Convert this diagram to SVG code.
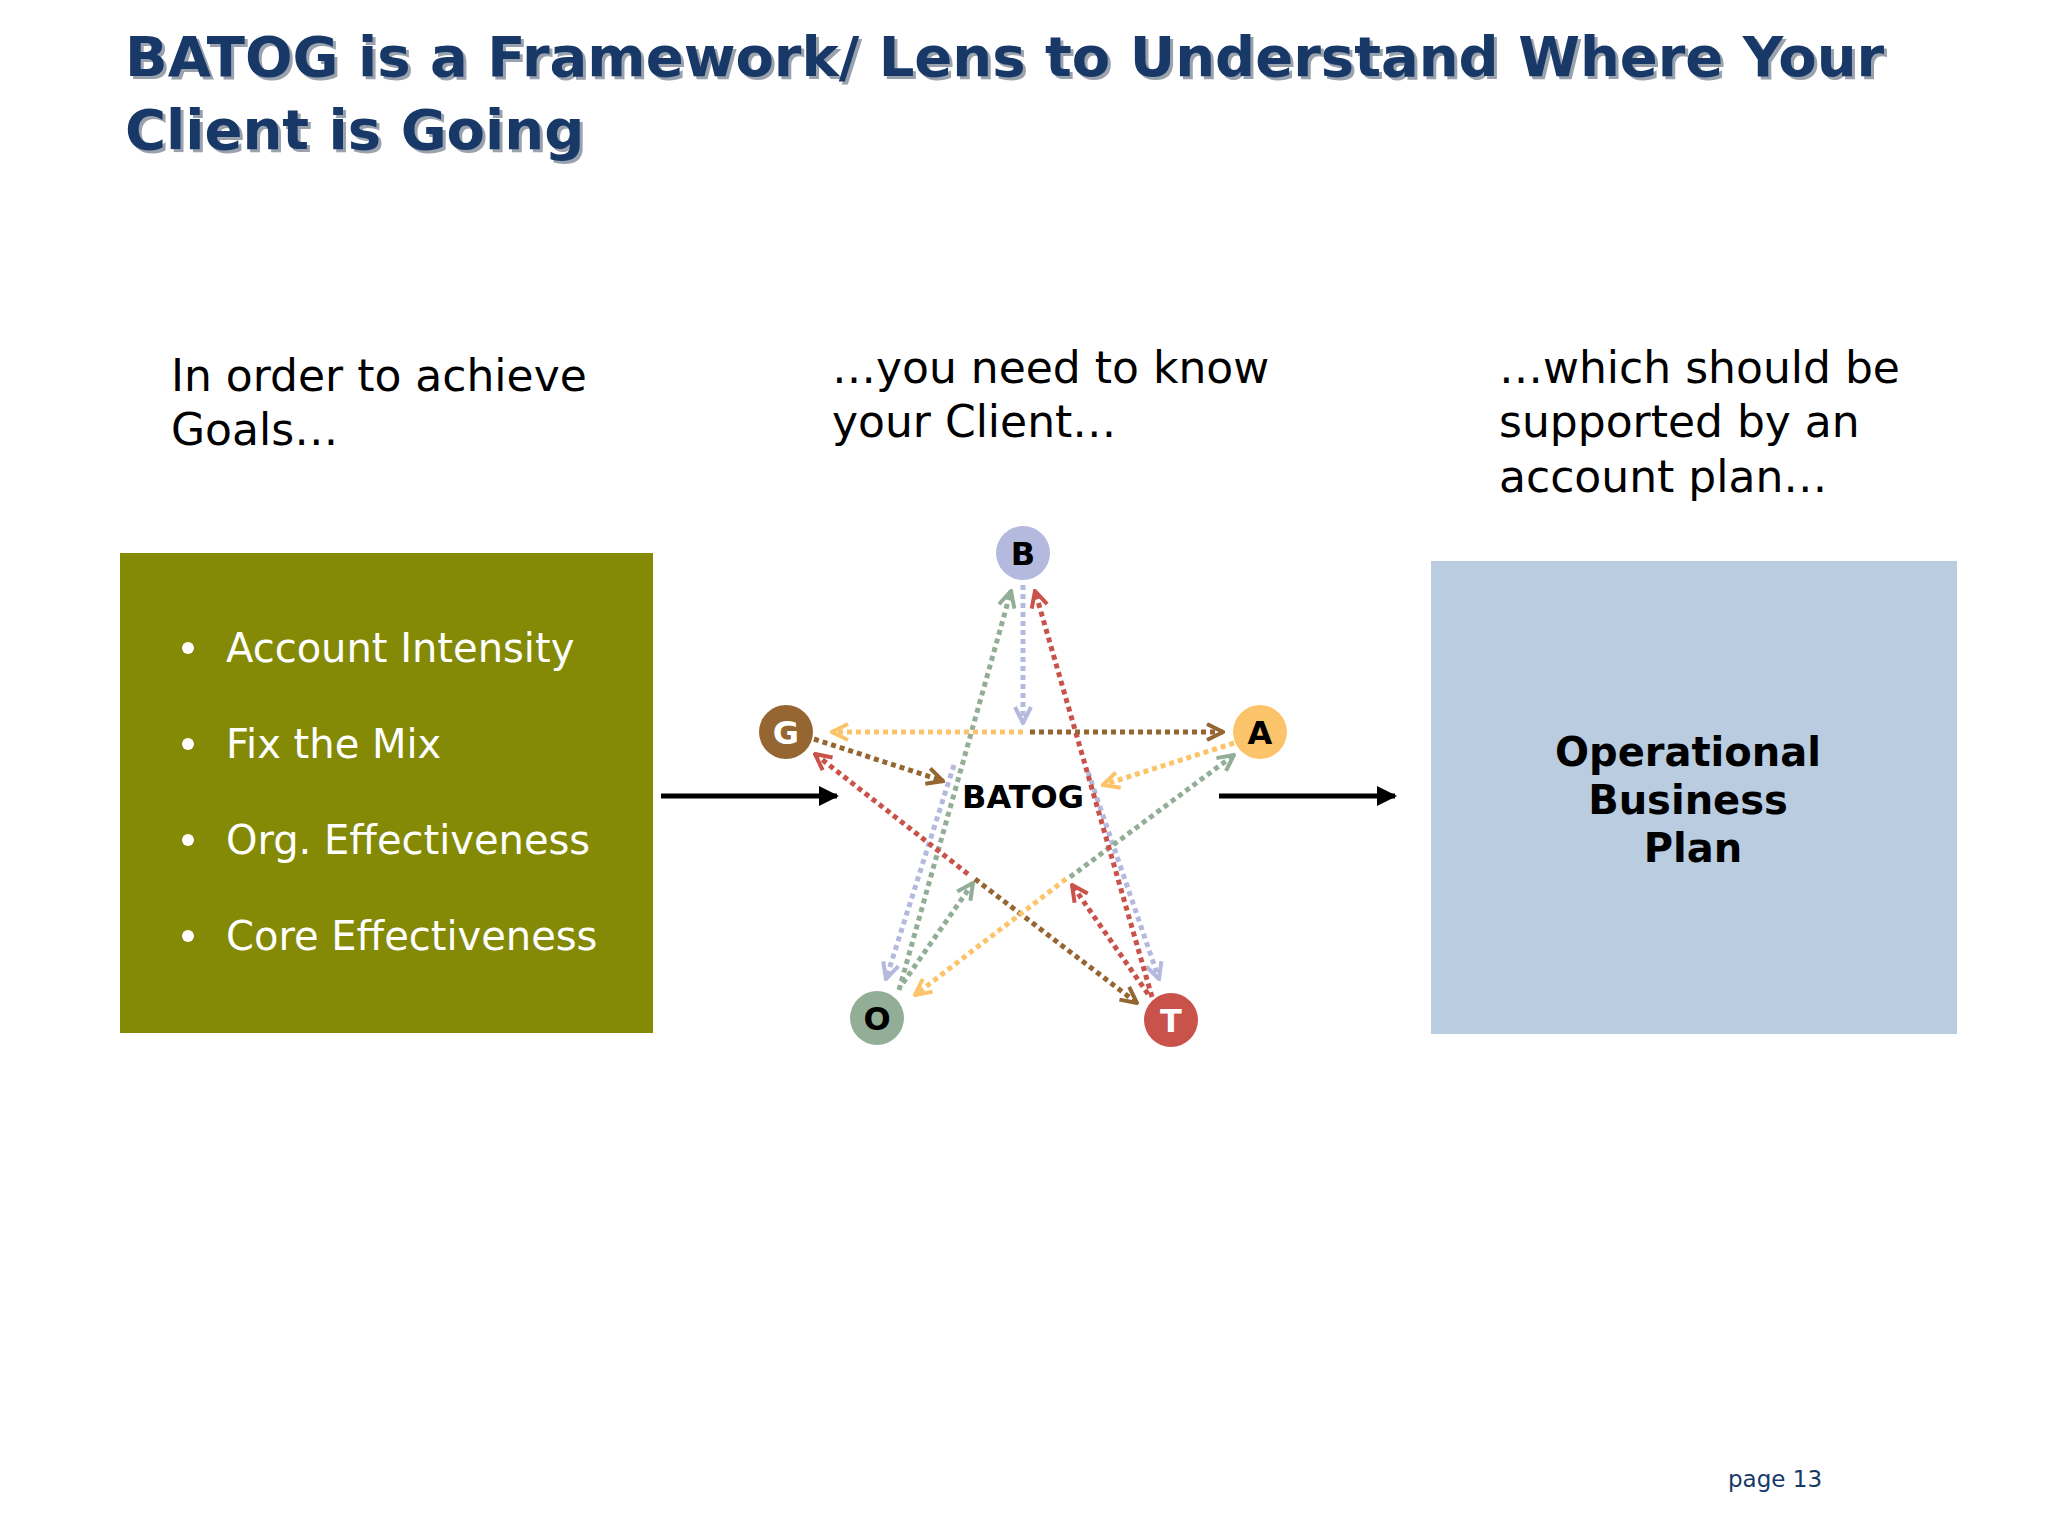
<svg xmlns="http://www.w3.org/2000/svg" width="2048" height="1536" viewBox="0 0 2048 1536">
<defs>
<style>
.t{font-family:"DejaVu Sans",Verdana,sans-serif;font-size:44px;fill:#000}
.b{font-family:"DejaVu Sans",Verdana,sans-serif;font-size:40px;fill:#fff}
.ttl{font-family:"DejaVu Sans","Liberation Sans",sans-serif;font-weight:bold;font-size:56px;fill:#183968}
.sh{font-family:"DejaVu Sans","Liberation Sans",sans-serif;font-weight:bold;font-size:56px;fill:#9aa2ad}
.lt{font-family:"DejaVu Sans",Verdana,sans-serif;font-weight:bold;font-size:32px;text-anchor:middle}
.d{fill:none;stroke-width:5;stroke-dasharray:5 4}
</style>
<marker id="mk" viewBox="0 0 10 10" refX="9" refY="5" markerWidth="4" markerHeight="4" orient="auto" markerUnits="strokeWidth"><path d="M1,1 L9,5 L1,9" fill="none" stroke="context-stroke" stroke-width="2"/></marker>
<marker id="ab" viewBox="0 0 10 10" refX="9" refY="5" markerWidth="4" markerHeight="4" orient="auto" markerUnits="strokeWidth"><path d="M0,0 L10,5 L0,10 z" fill="#000"/></marker>
</defs>
<rect width="2048" height="1536" fill="#fff"/>
<g id="title">
<text class="sh" x="128" y="79">BATOG is a Framework/ Lens to Understand Where Your</text>
<text class="sh" x="128" y="152">Client is Going</text>
<text class="ttl" x="125" y="76">BATOG is a Framework/ Lens to Understand Where Your</text>
<text class="ttl" x="125" y="149">Client is Going</text>
</g>
<g id="h1"><text class="t" x="171" y="391">In order to achieve</text><text class="t" x="171" y="445">Goals…</text></g>
<g id="h2"><text class="t" x="832" y="383">…you need to know</text><text class="t" x="832" y="437">your Client…</text></g>
<g id="h3"><text class="t" x="1499" y="383">…which should be</text><text class="t" x="1499" y="437">supported by an</text><text class="t" x="1499" y="492">account plan…</text></g>
<g id="goals">
<rect x="120" y="553" width="533" height="480" fill="#848a06"/>
<circle cx="188" cy="648" r="6" fill="#fff"/><text class="b" x="226" y="662">Account Intensity</text>
<circle cx="188" cy="744" r="6" fill="#fff"/><text class="b" x="226" y="758">Fix the Mix</text>
<circle cx="188" cy="840" r="6" fill="#fff"/><text class="b" x="226" y="854">Org. Effectiveness</text>
<circle cx="188" cy="936" r="6" fill="#fff"/><text class="b" x="226" y="950">Core Effectiveness</text>
</g>
<g id="plan">
<rect x="1431" y="561" width="526" height="473" fill="#b9cce0"/>
<text class="lt" x="1688" y="766" style="font-size:40px">Operational</text>
<text class="lt" x="1688" y="814" style="font-size:40px">Business</text>
<text class="lt" x="1693" y="862" style="font-size:40px">Plan</text>
</g>
<g id="connectors">
<line x1="661" y1="796" x2="837" y2="796" stroke="#000" stroke-width="5" marker-end="url(#ab)"/>
<line x1="1219" y1="796" x2="1395" y2="796" stroke="#000" stroke-width="5" marker-end="url(#ab)"/>
<g class="d" stroke="#b4b9de" marker-end="url(#mk)">
<line class="d" x1="1023" y1="585" x2="1023" y2="723"/>
<line class="d" x1="954" y1="765" x2="886" y2="979"/>
<line class="d" x1="1088" y1="772" x2="1159" y2="979"/>
</g>
<g stroke="#93ae97" marker-end="url(#mk)">
<line class="d" x1="899" y1="990" x2="1011" y2="591"/>
<line class="d" x1="903" y1="983" x2="973" y2="883"/>
<line class="d" x1="1070" y1="877" x2="1234" y2="755"/>
</g>
<g stroke="#c9524a" marker-end="url(#mk)">
<line class="d" x1="1152" y1="997" x2="1035" y2="591"/>
<line class="d" x1="1148" y1="994" x2="1072" y2="885"/>
<line class="d" x1="968" y1="874" x2="815" y2="754"/>
</g>
<g stroke="#956532" marker-end="url(#mk)">
<line class="d" x1="1030" y1="732" x2="1223" y2="732"/>
<line class="d" x1="814" y1="739" x2="943" y2="781"/>
<line class="d" x1="975" y1="879" x2="1137" y2="1003"/>
</g>
<g stroke="#fcc46a" marker-end="url(#mk)">
<line class="d" x1="1023" y1="732" x2="832" y2="732"/>
<line class="d" x1="1234" y1="743" x2="1103" y2="785"/>
<line class="d" x1="1066" y1="879" x2="915" y2="995"/>
</g>
</g>
<g id="center"><text class="lt" x="1023" y="808" fill="#000">BATOG</text></g>
<g id="B"><circle cx="1023" cy="553" r="27" fill="#b4b9de"/><text class="lt" x="1023" y="565" fill="#000">B</text></g>
<g id="G"><circle cx="786" cy="732" r="27" fill="#956532"/><text class="lt" x="786" y="744" fill="#fff">G</text></g>
<g id="A"><circle cx="1260" cy="732" r="27" fill="#fcc46a"/><text class="lt" x="1260" y="744" fill="#000">A</text></g>
<g id="O"><circle cx="877" cy="1018" r="27" fill="#93ae97"/><text class="lt" x="877" y="1030" fill="#000">O</text></g>
<g id="T"><circle cx="1171" cy="1020" r="27" fill="#c9524a"/><text class="lt" x="1171" y="1032" fill="#fff">T</text></g>
<g id="page"><text x="1728" y="1487" style="font-family:'DejaVu Sans',Verdana,sans-serif;font-size:23px;fill:#183968">page  13</text></g>
</svg>
